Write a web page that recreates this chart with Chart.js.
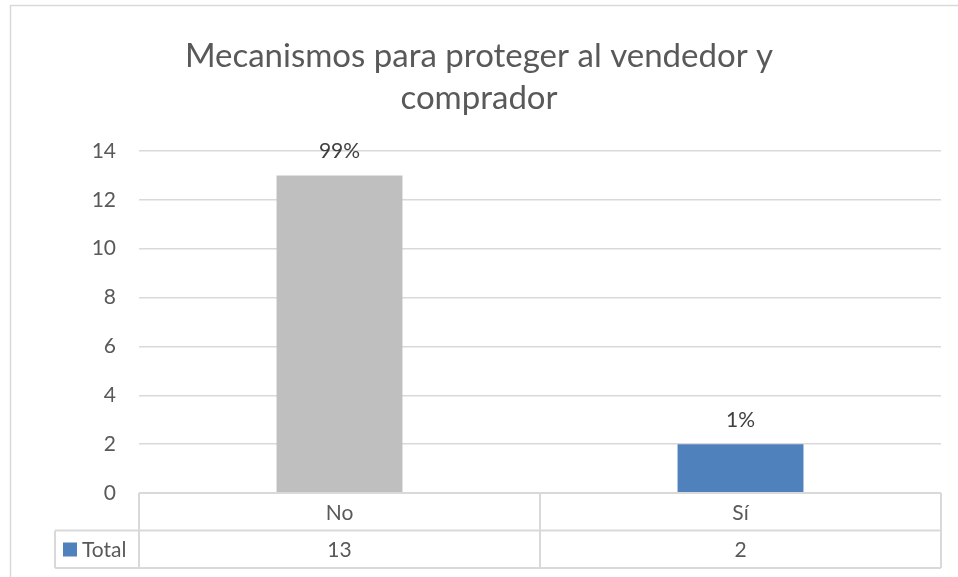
<!DOCTYPE html>
<html>
<head>
<meta charset="utf-8">
<script src="https://cdn.jsdelivr.net/npm/chart.js@4"></script>
<style>
  body { margin: 0; background: #fff; }
  #wrap { width: 958px; height: 577px; position: relative; }
</style>
</head>
<body>
<div id="wrap"><canvas id="myChart"></canvas></div>
<script>
var titleLines = ['Mecanismos para proteger al vendedor y', 'comprador'];
var categories = ['No', 'Sí'];
var totals = [13, 2];
var pctLabels = ['99%', '1%'];
var barColors = ['#BFBFBF', '#4F81BD'];
var seriesName = 'Total';
var seriesColor = '#4F81BD';
var yTicks = [0, 2, 4, 6, 8, 10, 12, 14];

var txtColor = '#595959';
var lineColor = '#D9D9D9';
var font = 'Lato, Carlito, Calibri, sans-serif';

// title, labels over bars, border and data table under the plot
var extras = {
    id: 'extras',
    afterDraw: function (chart) {
        var ctx = chart.ctx;
        var x = chart.scales.x;
        var area = chart.chartArea;
        ctx.save();

        // outer border
        ctx.strokeStyle = lineColor;
        ctx.lineWidth = 1.5;
        ctx.beginPath();
        ctx.moveTo(10.5, 600);
        ctx.lineTo(10.5, 5.5);
        ctx.lineTo(1000, 5.5);
        ctx.stroke();

        // title
        ctx.fillStyle = txtColor;
        ctx.font = '33px ' + font;
        ctx.textAlign = 'center';
        ctx.textBaseline = 'middle';
        for (var i = 0; i < titleLines.length; i++) {
            ctx.fillText(titleLines[i], 479, 56 + i * 42);
        }

        // value labels
        ctx.font = '21px ' + font;
        ctx.fillStyle = '#404040';
        var meta = chart.getDatasetMeta(0);
        meta.data.forEach(function (bar, i) {
            ctx.fillText(pctLabels[i], bar.x, bar.y - 24);
        });

        // data table
        var top = area.bottom;
        var rowH = 37.5;
        var left = 55;
        var colW = (area.right - area.left) / categories.length;
        ctx.strokeStyle = lineColor;
        ctx.lineWidth = 2;
        ctx.beginPath();
        ctx.moveTo(area.left, top);
        ctx.lineTo(area.right, top);
        ctx.moveTo(left, top + rowH);
        ctx.lineTo(area.right, top + rowH);
        ctx.moveTo(left, top + 2 * rowH);
        ctx.lineTo(area.right, top + 2 * rowH);
        ctx.moveTo(left, top + rowH);
        ctx.lineTo(left, top + 2 * rowH);
        for (var c = 0; c <= categories.length; c++) {
            var cx = area.left + c * colW;
            ctx.moveTo(cx, top);
            ctx.lineTo(cx, top + 2 * rowH);
        }
        ctx.stroke();

        ctx.fillStyle = txtColor;
        ctx.font = '21px ' + font;
        for (var k = 0; k < categories.length; k++) {
            var mid = x.getPixelForValue(k);
            ctx.fillText(categories[k], mid, top + rowH / 2 + 1);
            ctx.fillText(String(totals[k]), mid, top + rowH * 1.5 + 1);
        }
        ctx.fillStyle = seriesColor;
        ctx.fillRect(63, top + rowH + 12, 14, 14);
        ctx.fillStyle = txtColor;
        ctx.textAlign = 'left';
        ctx.fillText(seriesName, 82, top + rowH * 1.5 + 1);
        ctx.restore();
    }
};

const ctx = document.getElementById('myChart').getContext('2d');
const myChart = new Chart(ctx, {
    type: 'bar',
    data: {
        labels: categories,
        datasets: [{
            label: seriesName,
            data: totals,
            backgroundColor: barColors,
            borderWidth: 0,
            categoryPercentage: 1,
            barPercentage: 0.314
        }]
    },
    options: {
        responsive: true,
        maintainAspectRatio: false,
        animation: false,
        layout: {
            padding: { top: 151, bottom: 84, right: 17, left: 0 }
        },
        plugins: {
            legend: { display: false },
            title: { display: false },
            tooltip: { enabled: false }
        },
        scales: {
            x: { display: false },
            y: {
                min: 0,
                max: 14,
                afterBuildTicks: function (scale) {
                    scale.ticks = yTicks.map(function (v) { return { value: v }; });
                },
                afterFit: function (scale) { scale.width = 139; },
                border: { display: false },
                grid: { color: lineColor, lineWidth: 1.5, drawTicks: false },
                ticks: {
                    padding: 23,
                    color: txtColor,
                    font: { family: font, size: 21 }
                }
            }
        }
    },
    plugins: [extras]
});
</script>
</body>
</html>
